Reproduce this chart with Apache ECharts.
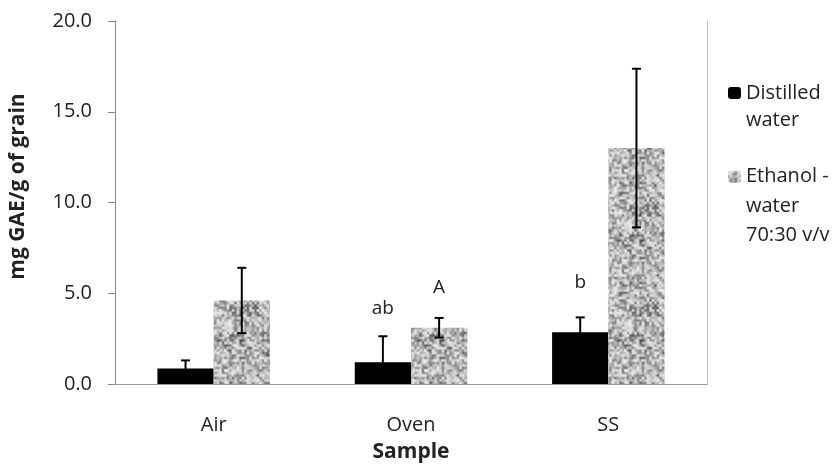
<!DOCTYPE html>
<html>
<head>
<meta charset="utf-8">
<script src="https://cdn.jsdelivr.net/npm/echarts@6/dist/echarts.min.js"></script>
<style>html,body{margin:0;padding:0;background:#fff}#c{width:836px;height:468px}</style>
</head>
<body>
<div id="c"></div>
<script>
// ---- data ----
const categories = ['Air', 'Oven', 'SS'];
const distilled = [0.85, 1.2, 2.85];
const distilledErr = [0.45, 1.43, 0.82];
const ethanol = [4.6, 3.1, 13.0];
const ethanolErr = [1.8, 0.54, 4.37];
const distilledMarks = ['', 'ab', 'b'];
const distilledMarkY = [null, 4.13, 5.6];
const ethanolMarks = ['', 'A', ''];
const ethanolMarkY = [null, 5.33, null];
const yTicks = [0, 5, 10, 15, 20];

const FONT = 'Open Sans';
const FS = 20;
const FSB = 21;
const BAR_GAP = 0.43;

// speckled grey texture (deterministic value noise)
function makeTexture() {
  const CELLS = 40, cell = 2.5, N = CELLS * cell;
  let seed = 12345;
  function rnd() { seed = (Math.imul(seed, 1103515245) + 12345) >>> 0; return ((seed >>> 8) & 0xffff) / 65535; }
  const tab = [];
  for (let i = 0; i < CELLS * CELLS; i++) tab.push(rnd());
  const tab2 = [];
  for (let i = 0; i < 20 * 20; i++) tab2.push(rnd());
  function val(t, n, gx, gy) {
    const x0 = Math.floor(gx), y0 = Math.floor(gy);
    let fx = gx - x0, fy = gy - y0;
    fx = fx * fx * (3 - 2 * fx); fy = fy * fy * (3 - 2 * fy);
    const g = (x, y) => t[((y % n + n) % n) * n + ((x % n + n) % n)];
    const a = g(x0, y0), b = g(x0 + 1, y0), c = g(x0, y0 + 1), d = g(x0 + 1, y0 + 1);
    return (a * (1 - fx) + b * fx) * (1 - fy) + (c * (1 - fx) + d * fx) * fy;
  }
  const cv = document.createElement('canvas');
  cv.width = N; cv.height = N;
  const ctx = cv.getContext('2d');
  const img = ctx.createImageData(N, N);
  for (let py = 0; py < N; py++) {
    for (let px = 0; px < N; px++) {
      const v1 = val(tab, CELLS, px / cell, py / cell);
      const v2 = val(tab2, 20, px / (N / 20), py / (N / 20));
      const v = 0.75 * v1 + 0.25 * v2;
      let g = 236 - 170 * Math.pow(v, 1.7);
      const i = (py * N + px) * 4;
      img.data[i] = g; img.data[i + 1] = g; img.data[i + 2] = g; img.data[i + 3] = 255;
    }
  }
  ctx.putImageData(img, 0, 0);
  return cv;
}
const texture = { image: makeTexture(), repeat: 'repeat' };

function errSeries(vals, errs, sign) {
  return {
    type: 'custom',
    z: 5,
    silent: true,
    data: vals.map((v, i) => [i, v, errs[i]]),
    renderItem: function (params, api) {
      const x = api.value(0), v = api.value(1), e = api.value(2);
      const band = api.size([1, 0])[0];
      const off = sign * band * (1 - BAR_GAP) / 4;
      const lo = v - e;
      const t = api.coord([x, v + e]);
      const b = api.coord([x, Math.max(0, lo)]);
      const cx = t[0] + off;
      const w = 4.5;
      const st = { stroke: '#000', lineWidth: 2 };
      const ch = [
        { type: 'line', shape: { x1: cx, y1: t[1], x2: cx, y2: b[1] }, style: st },
        { type: 'line', shape: { x1: cx - w, y1: t[1], x2: cx + w, y2: t[1] }, style: st }
      ];
      if (lo >= 0) ch.push({ type: 'line', shape: { x1: cx - w, y1: b[1], x2: cx + w, y2: b[1] }, style: st });
      return { type: 'group', children: ch };
    }
  };
}

function markSeries(marks, ys, sign) {
  const data = [];
  marks.forEach((m, i) => { if (m) data.push([i, ys[i], i]); });
  return {
    type: 'custom',
    z: 6,
    silent: true,
    data: data,
    renderItem: function (params, api) {
      const x = api.value(0), y = api.value(1), idx = api.value(2);
      const band = api.size([1, 0])[0];
      const off = sign * band * (1 - BAR_GAP) / 4;
      const p = api.coord([x, y]);
      return {
        type: 'text',
        style: {
          x: p[0] + off, y: p[1], text: marks[idx],
          align: 'center', verticalAlign: 'middle',
          fontFamily: FONT, fontSize: FS - 1, fill: '#222'
        }
      };
    }
  };
}

const chart = echarts.init(document.getElementById('c'), null, { renderer: 'canvas' });
chart.setOption({
  animation: false,
  backgroundColor: '#fff',
  grid: { left: 115, right: 129, top: 21, bottom: 79, containLabel: false },
  legend: [
    {
      data: ['Distilled water'],
      left: 728, top: 52.5, padding: 0,
      itemWidth: 13, itemHeight: 12, selectedMode: false,
      formatter: function () { return '\nDistilled\nwater'; },
      textStyle: { fontFamily: FONT, fontSize: FS, color: '#222', lineHeight: 27 }
    },
    {
      data: ['Ethanol - water 70:30 v/v'],
      left: 728, top: 103, padding: 0,
      itemWidth: 13, itemHeight: 12, selectedMode: false,
      formatter: function () { return '\n\nEthanol -\nwater\n70:30 v/v'; },
      textStyle: { fontFamily: FONT, fontSize: FS, color: '#222', lineHeight: 29.5 }
    }
  ],
  xAxis: {
    type: 'category',
    data: categories,
    name: 'Sample',
    nameLocation: 'middle',
    nameGap: 58,
    nameTextStyle: { fontFamily: FONT, fontSize: FSB, fontWeight: 'bold', color: '#222' },
    axisLine: { lineStyle: { color: '#999', width: 1 } },
    axisTick: { show: false },
    axisLabel: { fontFamily: FONT, fontSize: FS, color: '#222', margin: 31 }
  },
  yAxis: [
    {
      type: 'value',
      min: yTicks[0], max: yTicks[yTicks.length - 1], interval: yTicks[1] - yTicks[0],
      name: 'mg GAE/g of grain',
      nameLocation: 'middle',
      nameGap: 86,
      nameTextStyle: { fontFamily: FONT, fontSize: FSB, fontWeight: 'bold', color: '#222', padding: [0, 0, 0, 32] },
      axisLine: { show: true, lineStyle: { color: '#888', width: 1 } },
      axisTick: { show: true, length: 7, lineStyle: { color: '#888' } },
      splitLine: { show: false },
      axisLabel: {
        fontFamily: FONT, fontSize: FS, color: '#222', margin: 23,
        formatter: function (v) { return v.toFixed(1); }
      }
    },
    {
      type: 'value',
      position: 'right',
      min: yTicks[0], max: yTicks[yTicks.length - 1], interval: yTicks[1] - yTicks[0],
      axisLine: { show: true, lineStyle: { color: '#c4c4c4', width: 1 } },
      axisTick: { show: false },
      axisLabel: { show: false },
      splitLine: { show: false }
    }
  ],
  series: [
    {
      name: 'Distilled water',
      type: 'bar',
      data: distilled,
      barGap: '0%',
      barCategoryGap: (BAR_GAP * 100) + '%',
      itemStyle: { color: '#000' }
    },
    {
      name: 'Ethanol - water 70:30 v/v',
      type: 'bar',
      data: ethanol,
      barGap: '0%',
      barCategoryGap: (BAR_GAP * 100) + '%',
      itemStyle: { color: texture }
    },
    errSeries(distilled, distilledErr, -1),
    errSeries(ethanol, ethanolErr, 1),
    markSeries(distilledMarks, distilledMarkY, -1),
    markSeries(ethanolMarks, ethanolMarkY, 1)
  ]
});
</script>
</body>
</html>
